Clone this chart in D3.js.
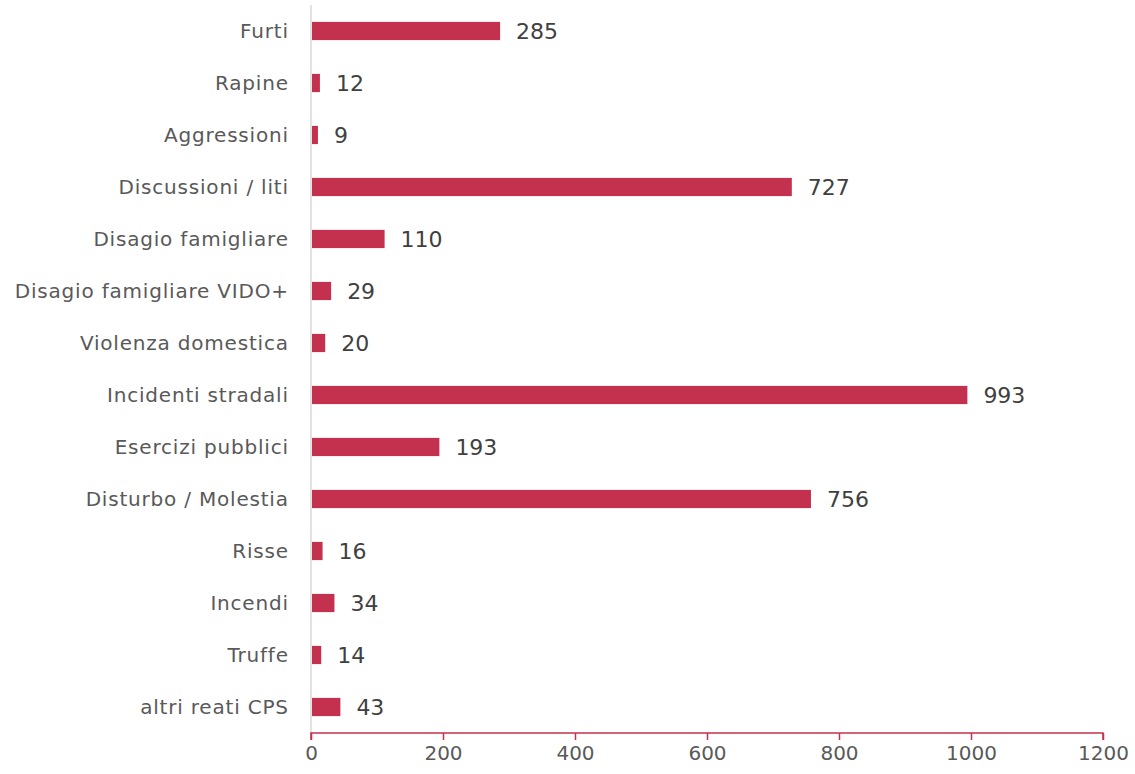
<!DOCTYPE html>
<html>
<head>
<meta charset="utf-8">
<script src="https://cdn.jsdelivr.net/npm/d3@7"></script>
<style>
  body { margin: 0; background: #fff; }
  svg { font-family: "DejaVu Sans", sans-serif; }
</style>
</head>
<body>
<div id="chart"></div>
<script>
var categories = ["Furti", "Rapine", "Aggressioni", "Discussioni / liti", "Disagio famigliare",
    "Disagio famigliare VIDO+", "Violenza domestica", "Incidenti stradali", "Esercizi pubblici",
    "Disturbo / Molestia", "Risse", "Incendi", "Truffe", "altri reati CPS"];
var values = [285, 12, 9, 727, 110, 29, 20, 993, 193, 756, 16, 34, 14, 43];
var tickValues = [0, 200, 400, 600, 800, 1000, 1200];

var width = 1135, height = 774;
var margin = { top: 5, right: 32, bottom: 41, left: 311 };
var barColor = "#c3314f";
var labelSpacing = 0.8;

var svg = d3.select("#chart").append("svg")
    .attr("width", width)
    .attr("height", height);

var x = d3.scaleLinear()
    .domain([0, 1200])
    .range([margin.left, width - margin.right]);

var y = d3.scaleBand()
    .domain(categories)
    .range([margin.top, height - margin.bottom])
    .paddingInner(0.65)
    .paddingOuter(0.325);

// vertical category axis line
svg.append("line")
    .attr("x1", x(0)).attr("x2", x(0))
    .attr("y1", margin.top).attr("y2", height - margin.bottom)
    .attr("stroke", "#d9d9d9")
    .attr("stroke-width", 1.5);

// bars
svg.selectAll("rect.bar")
    .data(values)
    .enter()
    .append("rect")
    .attr("class", "bar")
    .attr("x", x(0) + 1)
    .attr("y", function (d, i) { return y(categories[i]); })
    .attr("width", function (d) { return x(d) - x(0); })
    .attr("height", y.bandwidth())
    .attr("fill", barColor);

// value labels
svg.selectAll("text.value")
    .data(values)
    .enter()
    .append("text")
    .attr("class", "value")
    .attr("x", function (d) { return x(d) + 17; })
    .attr("y", function (d, i) { return y(categories[i]) + y.bandwidth() / 2; })
    .attr("dy", "0.36em")
    .attr("font-size", "22px")
    .attr("fill", "#404040")
    .text(function (d) { return d; });

// category labels
svg.selectAll("text.cat")
    .data(categories)
    .enter()
    .append("text")
    .attr("class", "cat")
    .attr("x", x(0) - 23 + labelSpacing)
    .attr("y", function (d) { return y(d) + y.bandwidth() / 2; })
    .attr("dy", "0.36em")
    .attr("text-anchor", "end")
    .attr("font-size", "20px")
    .attr("letter-spacing", labelSpacing + "px")
    .attr("fill", "#595959")
    .text(function (d) { return d; });

// bottom axis
var xAxis = svg.append("g")
    .attr("transform", "translate(0," + (height - margin.bottom) + ")")
    .call(d3.axisBottom(x).tickValues(tickValues).tickSize(7).tickPadding(6).tickFormat(d3.format("d")));

xAxis.select(".domain")
    .attr("d", "M" + x(0) + ",7V0H" + x(1200) + "V7")
    .attr("stroke", barColor)
    .attr("stroke-width", 1.5);
xAxis.selectAll(".tick line")
    .attr("stroke", barColor)
    .attr("stroke-width", 1.5);
xAxis.selectAll(".tick text")
    .attr("font-family", "'DejaVu Sans', sans-serif")
    .attr("font-size", "20px")
    .attr("fill", "#595959");
</script>
</body>
</html>
